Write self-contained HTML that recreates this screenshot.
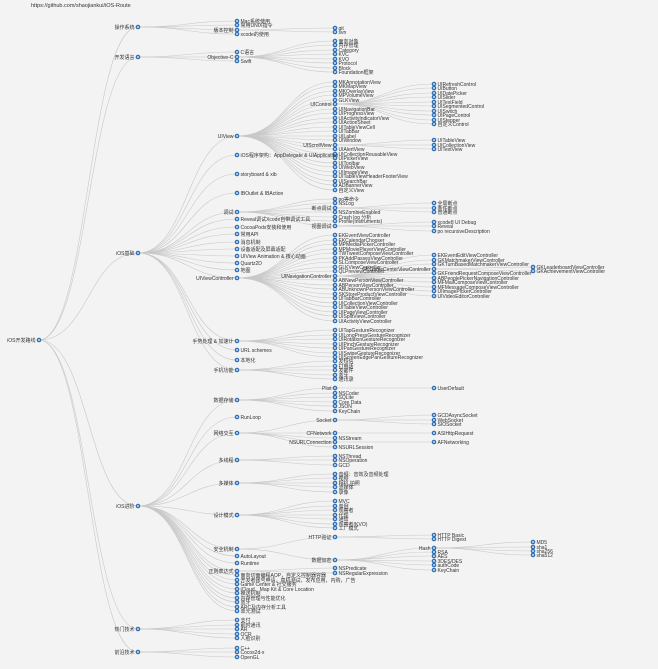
<!DOCTYPE html>
<html><head><meta charset="utf-8"><style>
html,body{margin:0;padding:0;background:#f3f3f3;width:658px;height:669px;overflow:hidden}
svg{display:block}
text{font-family:"Liberation Sans","Noto Sans CJK SC",sans-serif;font-size:5px;fill:#333}
</style></head><body>
<svg id="s" width="658" height="669" xmlns="http://www.w3.org/2000/svg">
<rect width="658" height="669" fill="#f3f3f3"/>
<text x="31" y="7" style="font-size:5.5px">https://github.com/shaojiankui/iOS-Route</text>
<g id="links" fill="none" stroke="#c8c8c8" stroke-width="0.6"></g>
<g id="nodes"></g>
</svg>
<script>
var X=[39,138,237,335,434,533];
function L(a){return a.map(function(s){var p=s.split('|');return [p[0],+p[1]];});}
var T=["iOS开发路线",340,[
 ["操作系统",27,[["Mac系统使用",21],["常用UNIX指令",25],["版本控制",30,L(["git|28","svn|32"])],["xcode的使用",34]]],
 ["开发语言",57,[["C语言",52],["Objective-C",57,L(["面向对象|41","内存管理|45","Category|50","KVC|54","KVO|59","Protocol|63","Block|68","Foundation框架|72"])],["Swift",61]]],
 ["iOS基础",253,[
  ["UIView",136,[["MKAnnotationView",82],["MKMapView",86],["MKOverlayView",91],["MPVolumeView",95],["GLKView",100],
   ["UIControl",104,L(["UIRefreshControl|84","UIButton|88","UIDatePicker|93","UISlider|97","UITextField|102","UISegmentedControl|106","UISwitch|111","UIPageControl|115","UIStepper|120","自定义Control|124"])],
   ["UINavigationBar",109],["UIProgressView",113],["UIActivityIndicatorView",118],["UIActionSheet",122],["UITableViewCell",127],["UITabBar",131],["UILabel",136],["UIWindow",140],
   ["UIScrollView",145,L(["UITableView|140","UICollectionView|145","UITextView|149"])],
   ["UIAlertView",149],["UICollectionReusableView",154],["UIPickerView",158],["UIToolbar",163],["UIWebView",167],["UIImageView",172],["UITableViewHeaderFooterView",176],["UISearchBar",181],["ADBannerView",185],["自定义View",190]]],
  ["iOS程序架构：AppDelegate & UIApplication",155],["storyboard & xib",174],["IBOutlet & IBAction",193],
  ["调试",212,[["po等命令",199],["NSLog",203],["断点调试",208,L(["全局断点|203","条件断点|208","普通断点|212"])],["NSZombieEnabled",212],["Crash log 分析",217],["Profile(Instruments)",221],["视图调试",226,L(["xcode8 UI Debug|222","Reveal|226","po recursiveDescription|231"])]]],
  ["Reveal调试Xcode自带调试工具",219],["CocoaPods安装和使用",227],["常用API",234],["消息机制",242],["设备适配及屏幕适配",249],["UIView Animation & 核心动画",256],["Quartz2D",263],["地图",270],
  ["UIViewController",278,[["EKEventViewController",235],["EKCalendarChooser",240],["MPMediaPickerController",244],["MPMoviePlayerViewController",249],["TWTweetComposeViewController",253],["PKAddPassesViewController",258],["SLComposeViewController",262],["GLKViewController",267],["QLPreviewController",271],
   ["UINavigationController",276,[["EKEventEditViewController",255],["GKMatchmakerViewController",260],["GKTurnBasedMatchmakerViewController",264],["GKGameCenterViewController",269,L(["GKLeaderboardViewController|267","GKAchievementViewController|271"])],["GKFriendRequestComposeViewController",273],["ABPeoplePickerNavigationController",278],["MFMailComposeViewController",282],["MFMessageComposeViewController",287],["UIImagePickerController",291],["UIVideoEditorController",296]]],
   ["ABNewPersonViewController",280],["ABPersonViewController",285],["ABUnknownPersonViewController",289],["SKStoreProductViewController",294],["UITabBarController",298],["UICollectionViewController",303],["UITableViewController",307],["UIPageViewController",312],["UISplitViewController",316],["UIActivityViewController",321]]],
  ["手势处理 & 加速计",341,L(["UITapGestureRecognizer|330","UILongPressGestureRecognizer|335","UIRotationGestureRecognizer|339","UIPinchGestureRecognizer|344","UIPanGestureRecognizer|348","UISwipeGestureRecognizer|353","UIScreenEdgePanGestureRecognizer|357"])],
  ["URL schemes",350],["本地化",360],["手机功能",370,L(["发短信|361","打电话|366","发邮件|370","蓝牙|375","通讯录|379"])]]],
 ["iOS进阶",506,[
  ["数据存储",400,[["Plist",388,L(["UserDefault|388"])],["NSCoder",393],["SQLite",397],["Core Data",402],["JSON",406],["KeyChain",411]]],
  ["RunLoop",417],
  ["网络交互",433,[["Socket",420,L(["GCDAsyncSocket|415","WebSocket|420","SIOSocket|424"])],["CFNetwork",433,L(["ASIHttpRequest|433"])],["NSStream",438],["NSURLConnection",442,L(["AFNetworking|442"])],["NSURLSession",447]]],
  ["多线程",460,L(["NSThread|456","NSOperation|460","GCD|465"])],
  ["多媒体",483,L(["音频：音效及音频处理|474","视频|478","相机,拍照|483","流媒体|487","录像|492"])],
  ["设计模式",515,L(["MVC|501","单例|506","观察者|510","代理|515","通知|519","观察者(KVO)|524","工厂模式|528"])],
  ["安全机制",549,[["HTTP验证",537,L(["HTTP Basic|535","HTTP Digest|539"])],["数据加密",560,[["Hash",548,L(["MD5|542","sha1|547","sha256|551","sha512|555"])],["RSA",552],["AES",556],["3DES/DES",561],["authCode",565],["KeyChain",570]]]]],
  ["AutoLayout",556],["Runtime",563],
  ["正则表达式",571,L(["NSPredicate|568","NSRegularExpression|573"])],
  ["面向切面编程AOP，自定义控制器容器",575],["开发者账号申请，真机测试，发布应用，内购，广告",580],["Game Center & 社交服务",584],["iCloud、Map Kit & Core Location",589],["推送机制",593],["内存管理与性能优化",598],["蓝牙",602],["ARC及内存分析工具",607],["单元测试",611]]],
 ["热门技术",629,L(["支付|620","即时通讯|625","AR|629","OCR|634","人脸识别|638"])],
 ["前沿技术",652,L(["C++|648","Cocos2d-x|652","OpenGL|657"])]
]];
var lk=document.getElementById('links'),nd=document.getElementById('nodes'),NS="http://www.w3.org/2000/svg";
function el(t,a,p){var e=document.createElementNS(NS,t);for(var k in a)e.setAttribute(k,a[k]);p.appendChild(e);return e;}
function draw(n,d){
 var x=X[d],y=n[1],ch=n[2];
 if(ch){ch.forEach(function(c){var cx=X[d+1],cy=c[1],m=(x+cx)/2;
  el('path',{d:'M'+x+','+y+' C'+m+','+y+' '+m+','+cy+' '+cx+','+cy},lk);draw(c,d+1);});}
 el('circle',{cx:x,cy:y,r:2.3,fill:'#2f6fb5'},nd);
 el('circle',{cx:x,cy:y,r:0.9,fill:'#fff'},nd);
 var t=el('text',ch?{x:x-3.5,y:y+1.8,'text-anchor':'end'}:{x:x+3.5,y:y+1.8},nd);
 t.textContent=n[0];
}
draw(T,0);
</script>
</body></html>
